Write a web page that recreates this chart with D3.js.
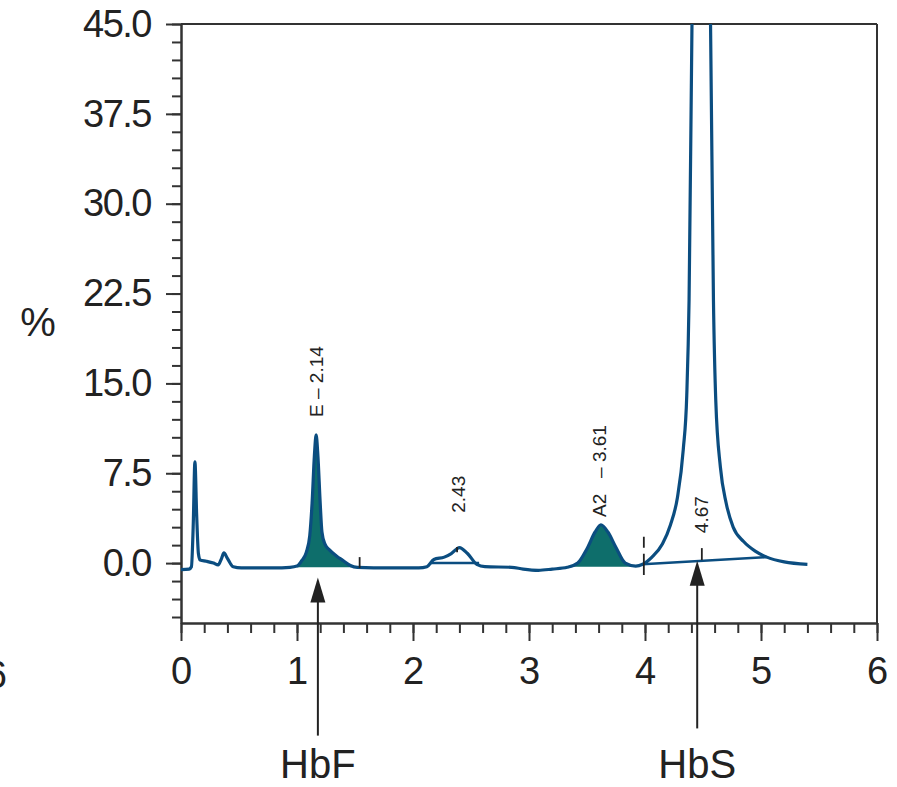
<!DOCTYPE html>
<html>
<head>
<meta charset="utf-8">
<script src="https://cdn.jsdelivr.net/npm/d3@7"></script>
<style>
  body { margin: 0; background: #fff; }
  text { font-family: "Liberation Sans", Arial, Helvetica, sans-serif; fill: #222; }
</style>
</head>
<body>
<svg width="897" height="787"></svg>
<script>

// retention time (min) / percent
const traceTime = [0.00, 0.07, 0.09, 0.105, 0.12, 0.135, 0.15, 0.165, 0.22, 0.28, 0.32, 0.35, 0.37, 0.40, 0.45, 0.52,
  0.80, 0.94, 1.00, 1.04, 1.08, 1.11, 1.13, 1.15, 1.165, 1.18, 1.20, 1.215, 1.24, 1.28, 1.34, 1.40, 1.46, 1.52,
  1.80, 2.05, 2.12, 2.18, 2.27, 2.33, 2.40, 2.47, 2.55, 2.62, 2.85, 2.95, 3.08, 3.20, 3.33,
  3.42, 3.50, 3.57, 3.62, 3.68, 3.75, 3.83, 3.92, 3.98,
  4.06, 4.15, 4.22, 4.28, 4.33, 4.36, 4.38, 4.405, 4.43, 4.48, 4.53, 4.565, 4.59, 4.61, 4.65, 4.70, 4.76, 4.85, 4.95, 5.05, 5.20, 5.40];
const tracePct = [-0.55, -0.5, -0.3, 3.0, 8.45, 4.0, 0.8, 0.25, 0.15, 0.0, -0.15, 0.4, 0.85, 0.4, -0.3, -0.4,
  -0.4, -0.35, -0.25, 0.2, 0.9, 2.3, 5.0, 9.0, 10.7, 9.0, 5.0, 2.6, 1.6, 1.1, 0.6, 0.2, -0.2, -0.35,
  -0.4, -0.4, -0.3, 0.3, 0.5, 0.8, 1.3, 0.8, -0.1, -0.3, -0.35, -0.5, -0.6, -0.5, -0.35,
  0.0, 1.2, 2.6, 3.2, 2.6, 1.3, 0.0, -0.25, -0.1,
  0.5, 1.6, 3.2, 5.5, 9.5, 14.0, 22.0, 45.0, 60.0, 75.0, 60.0, 45.0, 22.0, 13.6, 8.0, 5.0, 3.0, 1.8, 1.0, 0.5, 0.1, -0.1];

// shaded (integrated) peaks
const fills = [
  { from: 1.00, to: 1.52, base: -0.35 },
  { from: 3.33, to: 3.95, base: -0.3 }
];

// drawn baselines under peaks
const baselines = [
  { x0: 2.15, y0: 0.0, x1: 2.57, y1: 0.0 },
  { x0: 3.98, y0: -0.1, x1: 5.05, y1: 0.5 }
];

// small integration marks (drawn top to bottom)
const marks = [
  { x: 1.54, top: 0.5, bottom: -0.4, dashed: false },
  { x: 2.38, top: 1.35, bottom: 0.9, dashed: false },
  { x: 3.99, top: 2.2, bottom: -1.0, dashed: true },
  { x: 4.49, top: 1.25, bottom: 0.25, dashed: false }
];

const peakLabels = [
  { x: 1.17, y: 12.2, text: "E – 2.14" },
  { x: 2.39, y: 4.2, text: "2.43" },
  { x: 3.61, y: 3.85, text: "A2   – 3.61" },
  { x: 4.49, y: 2.5, text: "4.67" }
];

const arrows = [
  { label: "HbF", x: 1.18, tip: -1.2, tail: -14.4 },
  { label: "HbS", x: 4.45, tip: 0.2, tail: -13.8 }
];

const xMajor = [0, 1, 2, 3, 4, 5, 6];
const yMajor = [0, 7.5, 15, 22.5, 30, 37.5, 45];

const svg = d3.select("svg");

const x = d3.scaleLinear().domain([0, 6]).range([181, 877]);
const y = d3.scaleLinear().domain([-5, 45]).range([623, 24]);

const trace = traceTime.map((t, i) => ({ t: t, v: tracePct[i] }));

svg.append("clipPath").attr("id", "plot")
  .append("rect")
  .attr("x", x(0)).attr("y", y(45))
  .attr("width", x(6) - x(0)).attr("height", y(-5) - y(45));

const axisColor = "#333";

// frame: top and right
svg.append("line")
  .attr("x1", x(0)).attr("x2", x(6)).attr("y1", y(45)).attr("y2", y(45))
  .attr("stroke", axisColor).attr("stroke-width", 2);
svg.append("line")
  .attr("x1", x(6)).attr("x2", x(6)).attr("y1", y(45)).attr("y2", y(-5))
  .attr("stroke", axisColor).attr("stroke-width", 2);

// x axis, minor then major
svg.append("g")
  .attr("transform", "translate(0," + y(-5) + ")")
  .call(d3.axisBottom(x).tickValues(d3.range(0, 6.01, 0.2)).tickSize(10).tickSizeOuter(0).tickFormat(""));
svg.append("g")
  .attr("class", "xmaj")
  .attr("transform", "translate(0," + y(-5) + ")")
  .call(d3.axisBottom(x).tickValues(xMajor).tickSize(18).tickSizeOuter(0).tickPadding(16).tickFormat(d3.format("d")));

// y axis
svg.append("g")
  .attr("transform", "translate(" + x(0) + ",0)")
  .call(d3.axisLeft(y).tickValues(d3.range(-4.5, 45.01, 1.5)).tickSize(9).tickSizeOuter(0).tickFormat(""));
svg.append("g")
  .attr("class", "ymaj")
  .attr("transform", "translate(" + x(0) + ",0)")
  .call(d3.axisLeft(y).tickValues(yMajor).tickSize(15).tickSizeOuter(0).tickPadding(15).tickFormat(d3.format(".1f")));

svg.selectAll(".domain, .tick line").attr("stroke", axisColor).attr("stroke-width", 2);
svg.selectAll(".tick text").attr("font-size", 38).attr("fill", "#222")
  .style("font-family", "'Liberation Sans', Arial, sans-serif");
svg.selectAll(".ymaj .tick text").attr("letter-spacing", -1.5);

// edge of neighbouring figure
svg.append("text").attr("x", 7).attr("y", 688).attr("text-anchor", "end")
  .attr("font-size", 38).text("6");

svg.append("text").attr("x", 38).attr("y", 336).attr("text-anchor", "middle")
  .attr("font-size", 40).text("%");

const plot = svg.append("g").attr("clip-path", "url(#plot)");

// filled peaks
fills.forEach(f => {
  const pts = trace.filter(d => d.t >= f.from && d.t <= f.to);
  plot.append("path")
    .datum(pts)
    .attr("fill", "#0e6e6b")
    .attr("d", d3.area().curve(d3.curveMonotoneX)
      .x(d => x(d.t)).y0(y(f.base)).y1(d => y(Math.max(d.v, f.base))));
});

plot.selectAll(".base")
  .data(baselines)
  .enter().append("line")
  .attr("x1", d => x(d.x0)).attr("y1", d => y(d.y0))
  .attr("x2", d => x(d.x1)).attr("y2", d => y(d.y1))
  .attr("stroke", "#0b4d80").attr("stroke-width", 2.5);

plot.append("path")
  .datum(trace)
  .attr("fill", "none")
  .attr("stroke", "#0b4d80")
  .attr("stroke-width", 3.2)
  .attr("stroke-linejoin", "round")
  .attr("d", d3.line().curve(d3.curveMonotoneX).x(d => x(d.t)).y(d => y(d.v)));

svg.selectAll(".mark")
  .data(marks)
  .enter().append("line")
  .attr("x1", d => x(d.x)).attr("x2", d => x(d.x))
  .attr("y1", d => y(d.top)).attr("y2", d => y(d.bottom))
  .attr("stroke", "#222").attr("stroke-width", 1.8)
  .attr("stroke-dasharray", d => d.dashed ? "11,6,30" : null);

svg.selectAll(".plabel")
  .data(peakLabels)
  .enter().append("text")
  .attr("transform", d => "translate(" + x(d.x) + "," + y(d.y) + ") rotate(-90)")
  .attr("dy", "0.35em")
  .attr("font-size", 19)
  .style("white-space", "pre")
  .text(d => d.text);

// arrows
const ar = svg.selectAll(".arrow").data(arrows).enter().append("g");
ar.append("line")
  .attr("x1", d => x(d.x)).attr("x2", d => x(d.x))
  .attr("y1", d => y(d.tail)).attr("y2", d => y(d.tip) + 20)
  .attr("stroke", "#222").attr("stroke-width", 2);
ar.append("path")
  .attr("d", d => {
    const px = x(d.x), py = y(d.tip);
    return "M" + px + "," + py + "L" + (px - 7.5) + "," + (py + 25) + "L" + (px + 7.5) + "," + (py + 25) + "Z";
  })
  .attr("fill", "#222");
ar.append("text")
  .attr("x", d => x(d.x)).attr("y", 778)
  .attr("text-anchor", "middle")
  .attr("font-size", 40)
  .text(d => d.label);

</script>
</body>
</html>
